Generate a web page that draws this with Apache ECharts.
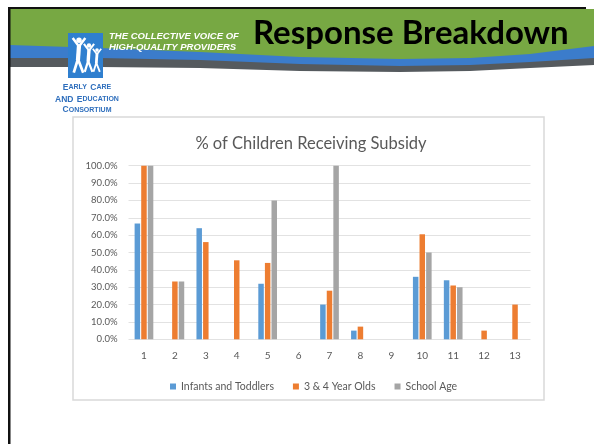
<!DOCTYPE html>
<html>
<head>
<meta charset="utf-8">
<script src="https://cdn.jsdelivr.net/npm/echarts@6/dist/echarts.min.js"></script>
<style>
  html, body { margin: 0; padding: 0; background: #fff; }
  #chart { width: 594px; height: 444px; }
</style>
</head>
<body>
<div id="chart"></div>
<script>
// values (percent)
const categories = ['1', '2', '3', '4', '5', '6', '7', '8', '9', '10', '11', '12', '13']
const seriesNames = ['Infants and Toddlers', '3 & 4 Year Olds', 'School Age']
const infants = [66.7, 0, 64, 0, 32, 0, 20, 5, 0, 36, 34, 0, 0]
const preschool = [100, 33.3, 56, 45.5, 44, 0, 28, 7.3, 0, 60.5, 31, 5, 20]
const schoolAge = [100, 33.3, 0, 0, 80, 0, 100, 0, 0, 50, 30, 0, 0]
const colors = ['#5b9bd5', '#ed7d31', '#a5a5a5']

const chart = echarts.init(document.getElementById('chart'))

// little white figures in the logo
function person(cx, top, s) {
  return [
    { type: 'circle', shape: { cx: cx, cy: top + 3 * s, r: 2.6 * s }, style: { fill: '#fff' } },
    { type: 'polyline', shape: { points: [[cx - 6 * s, top + 1 * s], [cx, top + 9 * s], [cx + 6 * s, top + 1 * s]] }, style: { stroke: '#fff', lineWidth: 2.4 * s, fill: null } },
    { type: 'polyline', shape: { points: [[cx, top + 8 * s], [cx - 1 * s, top + 22 * s]] }, style: { stroke: '#fff', lineWidth: 4 * s, fill: null } },
    { type: 'polyline', shape: { points: [[cx - 5 * s, top + 34 * s], [cx - 1 * s, top + 21 * s], [cx + 4 * s, top + 34 * s]] }, style: { stroke: '#fff', lineWidth: 2.6 * s, fill: null } }
  ]
}

// header band edge, bottom y of each stripe at a few x positions
function band(bottom) {
  return [[10, 9], [594, 9]].concat(bottom.slice().reverse())
}
const grayEdge = [[10, 67], [100, 67], [200, 68], [300, 71], [400, 72], [470, 71], [530, 68], [594, 65]]
const blueEdge = [[10, 58], [100, 58], [200, 60], [300, 64], [400, 66], [470, 65], [530, 62], [594, 58]]
const greenEdge = [[10, 45], [100, 48], [200, 52], [300, 57], [400, 59], [470, 58], [530, 54], [594, 46]]

const decor = [
  { type: 'polygon', z: 1, shape: { points: band(grayEdge) }, style: { fill: '#555a5e' } },
  { type: 'polygon', z: 1, shape: { points: band(blueEdge) }, style: { fill: '#3b7ccb' } },
  { type: 'polygon', z: 1, shape: { points: band(greenEdge) }, style: { fill: '#77a843' } },
  // black slide border
  { type: 'rect', z: 2, shape: { x: 8, y: 7, width: 578, height: 2 }, style: { fill: '#111' } },
  { type: 'rect', z: 2, shape: { x: 8, y: 7, width: 2.5, height: 437 }, style: { fill: '#111' } },
  // logo
  { type: 'rect', z: 3, shape: { x: 68, y: 33, width: 35, height: 45 }, style: { fill: '#2f7fcf' } },
  ...person(79, 37, 1.05).map(e => Object.assign(e, { z: 4 })),
  ...person(89, 43, 0.85).map(e => Object.assign(e, { z: 4 })),
  ...person(97, 48, 0.7).map(e => Object.assign(e, { z: 4 })),
  {
    type: 'text', z: 3, x: 87, y: 98,
    style: {
      text: '{a|E}{b|ARLY} {a|C}{b|ARE}\n{a|AND} {a|E}{b|DUCATION}\n{a|C}{b|ONSORTIUM}',
      align: 'center', verticalAlign: 'middle', fill: '#2f6fbd',
      rich: {
        a: { fontFamily: 'Liberation Sans', fontWeight: 'bold', fontSize: 8.5, fill: '#2f6fbd', lineHeight: 9.5 },
        b: { fontFamily: 'Liberation Sans', fontWeight: 'bold', fontSize: 7, fill: '#2f6fbd', lineHeight: 9.5 }
      }
    }
  },
  {
    type: 'text', z: 3, x: 109, y: 42,
    style: {
      text: 'THE COLLECTIVE VOICE OF\nHIGH-QUALITY PROVIDERS',
      verticalAlign: 'middle', fill: '#fff',
      fontFamily: 'Liberation Sans', fontWeight: 'bold', fontStyle: 'italic', fontSize: 9.5, lineHeight: 10.5
    }
  },
  {
    type: 'text', z: 3, x: 253, y: 33,
    style: {
      text: 'Response Breakdown', verticalAlign: 'middle', fill: '#000',
      fontFamily: 'Lato', fontWeight: 'bold', fontSize: 33
    }
  },
  // chart frame
  { type: 'rect', z: 0, shape: { x: 73, y: 117, width: 471, height: 283 }, style: { fill: '#fff', stroke: '#d9d9d9', lineWidth: 1.5 } }
]

chart.setOption({
  backgroundColor: '#fff',
  animation: false,
  color: colors,
  textStyle: { fontFamily: 'Lato' },
  graphic: decor,
  title: {
    text: '% of Children Receiving Subsidy',
    left: 306,
    top: 130,
    textAlign: 'center',
    textStyle: { fontFamily: 'Lato', fontSize: 16.5, fontWeight: 'normal', color: '#595959' }
  },
  legend: {
    left: 165,
    top: 376,
    itemWidth: 6,
    itemHeight: 6,
    itemGap: 19,
    icon: 'rect',
    textStyle: { fontFamily: 'Lato', fontSize: 10.5, color: '#595959' },
    data: seriesNames
  },
  grid: {
    left: 128.5,
    right: 63.5,
    top: 165.7,
    bottom: 104.7
  },
  xAxis: {
    type: 'category',
    data: categories,
    axisLine: { show: false },
    axisTick: { show: false },
    axisLabel: { fontFamily: 'Lato', fontSize: 10, color: '#595959', margin: 11 }
  },
  yAxis: {
    type: 'value',
    min: 0,
    max: 100,
    interval: 10,
    axisLine: { show: false },
    axisTick: { show: false },
    splitLine: { lineStyle: { color: '#e2e2e2', width: 1 } },
    axisLabel: {
      fontFamily: 'Lato', fontSize: 9.5, color: '#595959', margin: 11,
      formatter: v => v.toFixed(1) + '%'
    }
  },
  series: [
    { name: seriesNames[0], type: 'bar', data: infants, barWidth: 5.5, barGap: '20%' },
    { name: seriesNames[1], type: 'bar', data: preschool, barWidth: 5.5, barGap: '20%' },
    { name: seriesNames[2], type: 'bar', data: schoolAge, barWidth: 5.5, barGap: '20%' }
  ]
})
</script>
</body>
</html>
